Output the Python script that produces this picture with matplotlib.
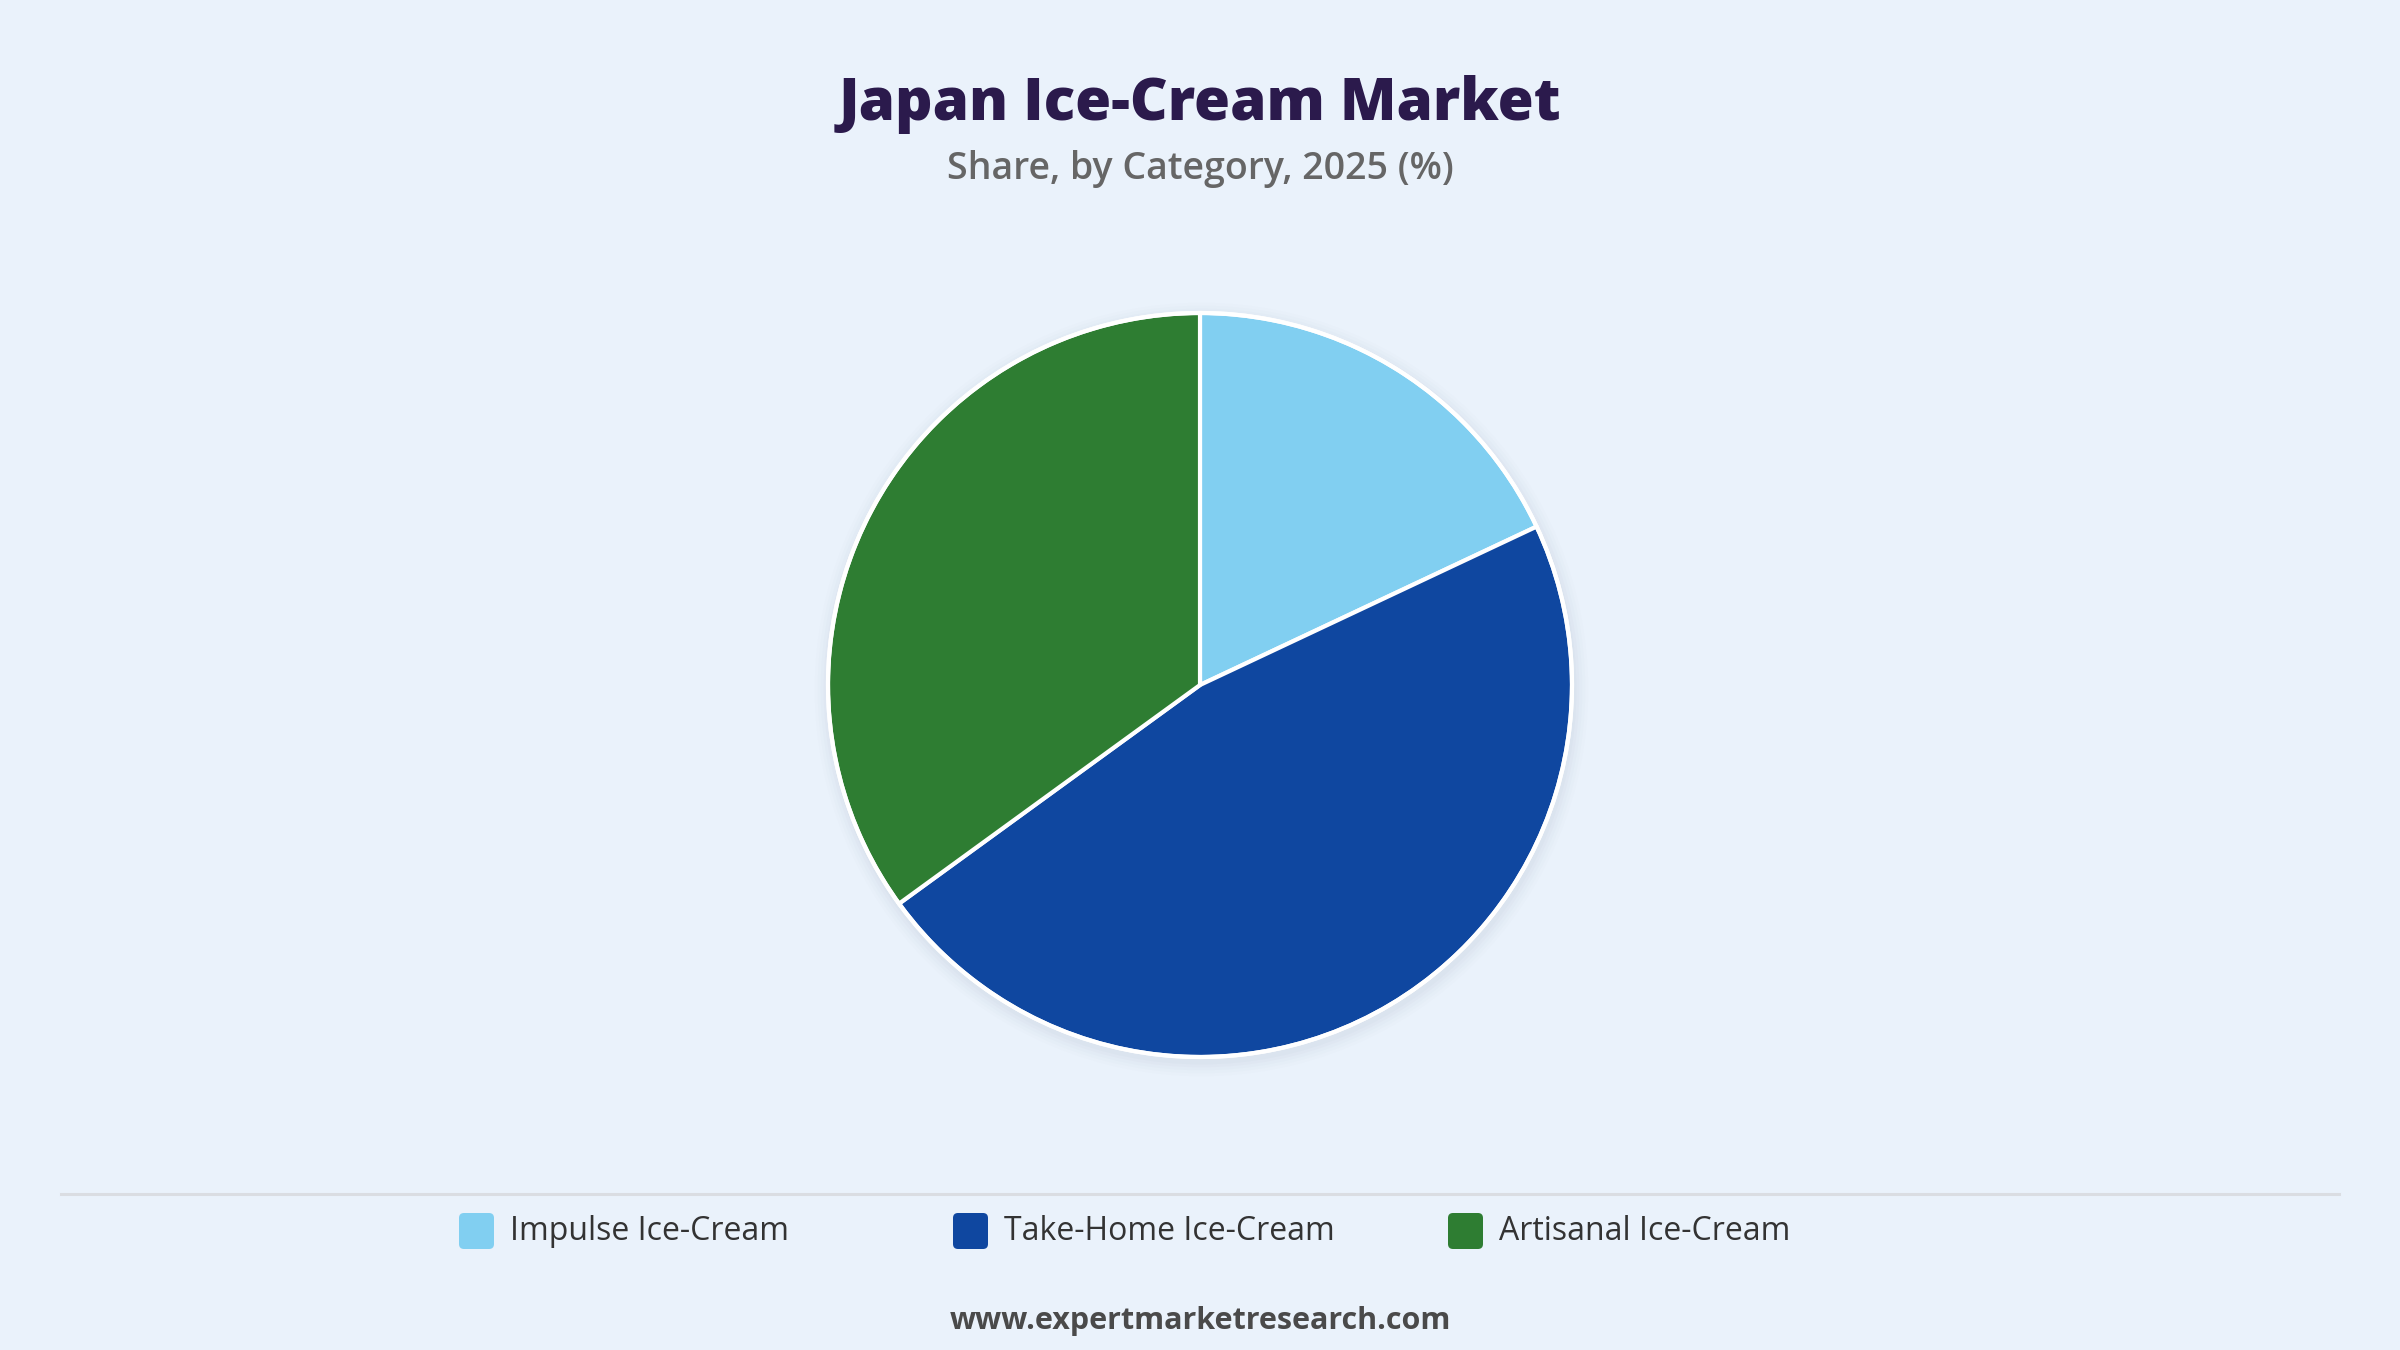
"""
Japan ice-cream market share pie chart
"""
import matplotlib.pyplot as plt
from matplotlib.patches import FancyBboxPatch, Circle

# data
categories = ["Impulse Ice-Cream", "Take-Home Ice-Cream", "Artisanal Ice-Cream"]
shares = [18, 47, 35]
colors = ["#81CFF1", "#0F47A0", "#2E7D32"]

title = "Japan Ice-Cream Market"
subtitle = "Share, by Category, 2025 (%)"
footer = "www.expertmarketresearch.com"

bg = "#EAF2FB"
W, H = 2400, 1350

plt.rcParams["font.family"] = ["Open Sans", "DejaVu Sans"]

fig = plt.figure(figsize=(24, 13.5), dpi=100, facecolor=bg)

# overlay axes in pixel coordinates for text / legend
ov = fig.add_axes([0, 0, 1, 1])
ov.set_xlim(0, W)
ov.set_ylim(H, 0)
ov.axis("off")
ov.set_facecolor("none")

ov.text(W / 2, 105, title, ha="center", va="center", fontsize=42,
        fontweight="heavy", color="#2B1A4C")
ov.text(W / 2, 169, subtitle, ha="center", va="center", fontsize=27,
        fontweight="semibold", color="#666666")

# pie axes: centre (1200, 685), radius 372 px
cx, cy, r = 1200, 685, 372
pad = 1.06
ax = fig.add_axes([(cx - r * pad) / W, (H - cy - r * pad) / H,
                   2 * r * pad / W, 2 * r * pad / H])

# soft shadow
for i, a in enumerate([0.035, 0.03, 0.025, 0.02, 0.015]):
    ax.add_patch(Circle((0.004, -0.012), 1.0 + 0.008 * (i + 1),
                        facecolor="#8090a8", edgecolor="none", alpha=a, zorder=0))

ax.pie(shares, colors=colors, startangle=90, counterclock=False, radius=1.0,
       wedgeprops=dict(edgecolor="white", linewidth=3, zorder=2))
ax.add_patch(Circle((0, 0), 1.0, facecolor="none", edgecolor="white",
                    linewidth=3, zorder=3))
ax.set_xlim(-pad, pad)
ax.set_ylim(-pad, pad)
ax.set_aspect("equal")
ax.axis("off")

# separator line
ov.plot([61, 2339], [1194, 1194], color="#DADDE2", linewidth=2.2)

# legend
sq_x = [459, 953, 1448]
for x, lab, c in zip(sq_x, categories, colors):
    ov.add_patch(FancyBboxPatch((x + 5, 1213 + 5), 25, 26,
                                boxstyle="round,pad=5", facecolor=c,
                                edgecolor="none"))
    ov.text(x + 51, 1231, lab, ha="left", va="center", fontsize=23,
            color="#333333")

ov.text(W / 2, 1321, footer, ha="center", va="center", fontsize=22,
        fontweight="bold", color="#4A4A4A")

fig.savefig("out.png", dpi=100, facecolor=bg)
